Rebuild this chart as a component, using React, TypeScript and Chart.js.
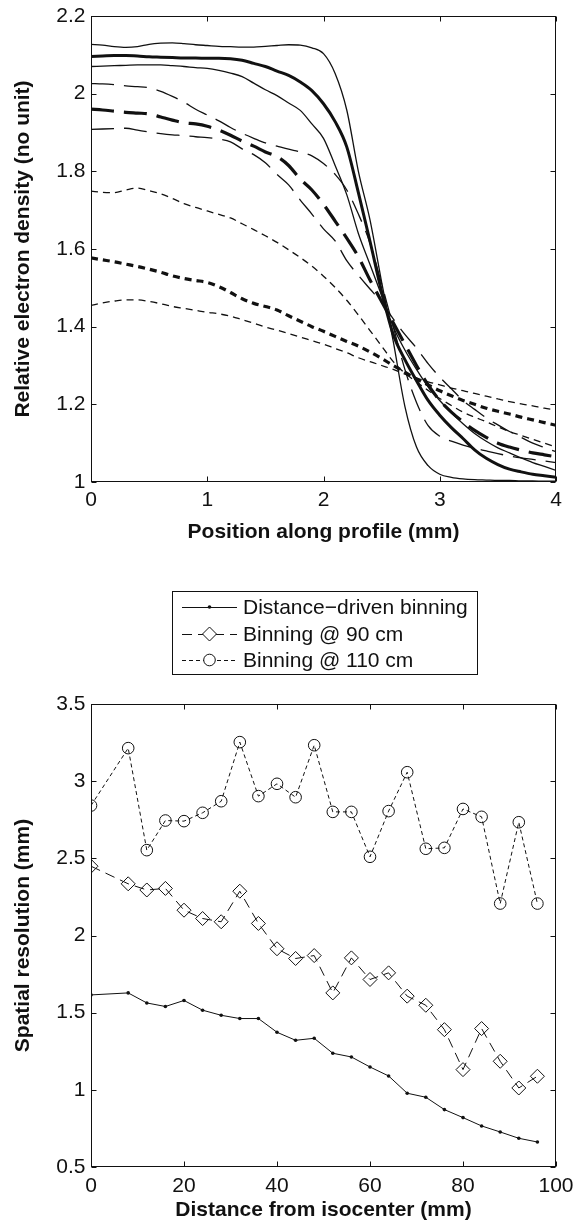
import React, { useEffect, useRef } from "react";
import { Chart, registerables } from "chart.js";

Chart.register(...registerables);

// ---------- Top chart: profiles ----------
const PROFILE_X = [
  0, 0.1, 0.2, 0.3, 0.4, 0.5, 0.6, 0.7, 0.8, 0.9, 1.0, 1.1, 1.2, 1.3, 1.4, 1.5, 1.6, 1.7, 1.8, 1.9, 2.0,
  2.1, 2.2, 2.3, 2.4, 2.5, 2.6, 2.7, 2.8, 2.9, 3.0, 3.1, 3.2, 3.3, 3.4, 3.5, 3.6, 3.7, 3.8, 3.9, 4.0,
];

const SOLID_UPPER = [
  2.127, 2.125, 2.121, 2.119, 2.121, 2.127, 2.13, 2.131, 2.129, 2.126, 2.124, 2.122, 2.121, 2.12, 2.12, 2.122,
  2.124, 2.126, 2.125, 2.118, 2.103, 2.052, 1.958, 1.8, 1.675, 1.515, 1.362, 1.195, 1.09, 1.042, 1.02, 1.012,
  1.008, 1.006, 1.005, 1.004, 1.004, 1.003, 1.003, 1.002, 1.002,
];
const SOLID_MEAN = [
  2.096, 2.097, 2.098, 2.098, 2.097, 2.095, 2.094, 2.093, 2.092, 2.092, 2.091, 2.091, 2.09, 2.086, 2.078, 2.07,
  2.058, 2.047, 2.03, 2.008, 1.974, 1.928, 1.863, 1.745, 1.62, 1.49, 1.38, 1.315, 1.261, 1.21, 1.172, 1.14,
  1.112, 1.083, 1.061, 1.045, 1.033, 1.026, 1.02, 1.016, 1.012,
];
const SOLID_LOWER = [
  2.07, 2.071, 2.072, 2.073, 2.074, 2.074, 2.074, 2.072, 2.07, 2.067, 2.065, 2.06, 2.053, 2.044, 2.027, 2.01,
  1.995, 1.976, 1.957, 1.922, 1.885, 1.815, 1.74, 1.64, 1.56, 1.48, 1.4, 1.34, 1.29, 1.245, 1.21, 1.178,
  1.15, 1.125, 1.105, 1.088, 1.075, 1.062, 1.05, 1.04, 1.03,
];
const DASH_UPPER = [
  2.026, 2.025, 2.023, 2.02, 2.018, 2.015, 2.006, 1.993, 1.978, 1.96, 1.945, 1.93, 1.913, 1.898, 1.885, 1.873,
  1.865, 1.857, 1.85, 1.84, 1.82, 1.792, 1.752, 1.69, 1.615, 1.51, 1.4, 1.29, 1.205, 1.145, 1.118, 1.105,
  1.095, 1.087, 1.08, 1.073, 1.067, 1.062, 1.058, 1.054, 1.05,
];
const DASH_MEAN = [
  1.96, 1.958, 1.955, 1.952, 1.95, 1.948, 1.94, 1.932, 1.925, 1.922, 1.916, 1.906, 1.893, 1.878, 1.865, 1.85,
  1.838, 1.815, 1.78, 1.752, 1.715, 1.672, 1.628, 1.58, 1.52, 1.465, 1.41, 1.355, 1.3, 1.25, 1.21, 1.18,
  1.155, 1.133, 1.115, 1.1, 1.09, 1.082, 1.075, 1.07, 1.065,
];
const DASH_LOWER = [
  1.908, 1.909, 1.91, 1.911, 1.906, 1.901, 1.897, 1.894, 1.892, 1.889, 1.887, 1.883, 1.876, 1.858, 1.843, 1.822,
  1.792, 1.765, 1.726, 1.69, 1.652, 1.621, 1.57, 1.532, 1.497, 1.462, 1.42, 1.38, 1.345, 1.305, 1.27, 1.24,
  1.21, 1.187, 1.165, 1.147, 1.13, 1.115, 1.1, 1.089, 1.078,
];
const DOT_UPPER = [
  1.749, 1.746, 1.745, 1.752, 1.757, 1.75, 1.742, 1.73, 1.717, 1.707, 1.698, 1.689, 1.68, 1.665, 1.65, 1.634,
  1.617, 1.598, 1.578, 1.556, 1.53, 1.501, 1.468, 1.43, 1.39, 1.35, 1.31, 1.28, 1.258, 1.236, 1.215, 1.197,
  1.18, 1.167, 1.155, 1.142, 1.13, 1.12, 1.11, 1.1, 1.09,
];
const DOT_MEAN = [
  1.577, 1.572, 1.567, 1.561, 1.555, 1.548, 1.54, 1.531, 1.524, 1.519, 1.514, 1.503, 1.488, 1.472, 1.46, 1.452,
  1.443, 1.428, 1.414, 1.4, 1.388, 1.375, 1.362, 1.35, 1.335, 1.318, 1.3, 1.283, 1.265, 1.25, 1.235, 1.222,
  1.21, 1.2, 1.19, 1.182, 1.175, 1.167, 1.16, 1.153, 1.146,
];
const DOT_LOWER = [
  1.455, 1.461, 1.466, 1.469, 1.469, 1.465, 1.459, 1.452, 1.447, 1.442, 1.437, 1.433, 1.427, 1.418, 1.409, 1.399,
  1.391, 1.382, 1.373, 1.364, 1.355, 1.344, 1.333, 1.32, 1.31, 1.3, 1.29, 1.278, 1.268, 1.258, 1.25, 1.242,
  1.235, 1.228, 1.221, 1.214, 1.207, 1.201, 1.196, 1.19, 1.186,
];

const PROFILE_X_TICKS = [0, 1, 2, 3, 4];
const PROFILE_Y_TICKS = [1, 1.2, 1.4, 1.6, 1.8, 2, 2.2];

// ---------- Bottom chart: spatial resolution ----------
const DIST_X = [0, 8, 12, 16, 20, 24, 28, 32, 36, 40, 44, 48, 52, 56, 60, 64, 68, 72, 76, 80, 84, 88, 92, 96];
const RES_DISTANCE_DRIVEN = [
  1.615, 1.628, 1.563, 1.54, 1.579, 1.516, 1.483, 1.462, 1.462, 1.373, 1.321, 1.334, 1.237, 1.213, 1.148, 1.09,
  0.978, 0.952, 0.872, 0.82, 0.766, 0.727, 0.686, 0.662,
];
const RES_BIN_90 = [
  2.449, 2.335, 2.295, 2.305, 2.164, 2.11, 2.089, 2.287, 2.078, 1.914, 1.851, 1.87, 1.628, 1.855, 1.715, 1.758,
  1.607, 1.548, 1.39, 1.131, 1.397, 1.185, 1.012, 1.088,
];
const RES_BIN_110 = [
  2.842, 3.214, 2.553, 2.745, 2.741, 2.795, 2.87, 3.253, 2.903, 2.983, 2.896, 3.233, 2.801, 2.801, 2.51, 2.806,
  3.058, 2.562, 2.568, 2.82, 2.769, 2.207, 2.734, 2.207,
];
const SERIES_LABELS = ["Distance\u2212driven binning", "Binning @ 90 cm", "Binning @ 110 cm"];
const DIST_X_TICKS = [0, 20, 40, 60, 80, 100];
const RES_Y_TICKS = [0.5, 1, 1.5, 2, 2.5, 3, 3.5];

const FONT = "'Liberation Sans', Arial, Helvetica, sans-serif";
const INK = "#111";

const pts = (xs: number[], ys: number[]) => xs.map((x, i) => ({ x, y: ys[i] }));

const frameTicks = {
  id: "frameTicks",
  afterDraw(chart: any) {
    const { ctx, chartArea: a, scales } = chart;
    const L = Math.round(a.left) + 0.5;
    const R = Math.round(a.right) - 0.5;
    const T = Math.round(a.top) + 0.5;
    const B = Math.round(a.bottom) - 0.5;
    ctx.save();
    ctx.strokeStyle = INK;
    ctx.lineWidth = 1;
    ctx.setLineDash([]);
    ctx.strokeRect(L, T, R - L, B - T);
    const len = 5;
    ctx.beginPath();
    scales.x.ticks.forEach((t: any) => {
      const px = Math.round(scales.x.getPixelForValue(t.value)) + 0.5;
      ctx.moveTo(px, B);
      ctx.lineTo(px, B - len);
      ctx.moveTo(px, T);
      ctx.lineTo(px, T + len);
    });
    scales.y.ticks.forEach((t: any) => {
      const py = Math.round(scales.y.getPixelForValue(t.value)) + 0.5;
      ctx.moveTo(L, py);
      ctx.lineTo(L + len, py);
      ctx.moveTo(R, py);
      ctx.lineTo(R - len, py);
    });
    ctx.stroke();
    ctx.restore();
  },
};

const boxLegend = {
  id: "boxLegend",
  afterDraw(chart: any, _args: any, opts: any) {
    if (!opts || !opts.show) return;
    const { ctx } = chart;
    const { box, rows, lineX0, lineX1, markX, textX } = opts;
    ctx.save();
    ctx.fillStyle = "#fff";
    ctx.fillRect(box.left, box.top, box.right - box.left, box.bottom - box.top);
    ctx.strokeStyle = INK;
    ctx.lineWidth = 1;
    ctx.setLineDash([]);
    ctx.strokeRect(box.left + 0.5, box.top + 0.5, box.right - box.left, box.bottom - box.top);
    chart.data.datasets.forEach((ds: any, i: number) => {
      const y = rows[i];
      ctx.strokeStyle = INK;
      ctx.lineWidth = ds.borderWidth;
      ctx.setLineDash(ds.borderDash || []);
      ctx.beginPath();
      ctx.moveTo(lineX0, y + 0.5);
      ctx.lineTo(lineX1, y + 0.5);
      ctx.stroke();
      ctx.setLineDash([]);
      const r = ds.pointRadius;
      ctx.lineWidth = ds.pointBorderWidth;
      ctx.beginPath();
      if (ds.pointStyle === "rectRot") {
        ctx.fillStyle = "#fff";
        ctx.moveTo(markX - r, y);
        ctx.lineTo(markX, y - r);
        ctx.lineTo(markX + r, y);
        ctx.lineTo(markX, y + r);
        ctx.closePath();
        ctx.fill();
        ctx.stroke();
      } else {
        ctx.arc(markX, y, r, 0, Math.PI * 2);
        if (ds.pointBackgroundColor === INK) {
          ctx.fillStyle = INK;
          ctx.fill();
        } else {
          ctx.fillStyle = "#fff";
          ctx.fill();
          ctx.stroke();
        }
      }
      ctx.fillStyle = INK;
      ctx.font = `21px ${FONT}`;
      ctx.textAlign = "left";
      ctx.textBaseline = "middle";
      ctx.fillText(ds.label, textX, y + 1);
    });
    ctx.restore();
  },
};

function axis(
  min: number,
  max: number,
  tickValues: number[],
  title: string,
  isX: boolean,
  size: number,
  tickPad: number,
  titlePad: any
) {
  return {
    type: "linear",
    min,
    max,
    grid: { display: false, drawTicks: false },
    border: { display: false },
    afterBuildTicks: (s: any) => {
      s.ticks = tickValues.map((v) => ({ value: v }));
    },
    afterFit: (s: any) => {
      if (isX) s.height = size;
      else s.width = size;
      s.paddingLeft = 0;
      s.paddingRight = 0;
      s.paddingTop = 0;
      s.paddingBottom = 0;
    },
    ticks: {
      autoSkip: false,
      maxRotation: 0,
      padding: tickPad,
      color: INK,
      font: { family: FONT, size: 21 },
      callback: (v: any) => String(v),
    },
    title: {
      display: true,
      text: title,
      color: INK,
      font: { family: FONT, size: 21, weight: "bold" },
      padding: titlePad,
    },
  };
}

function profileLine(data: number[], width: number, dash: number[]) {
  return {
    data: pts(PROFILE_X, data),
    borderColor: INK,
    borderWidth: width,
    borderDash: dash,
    pointRadius: 0,
    fill: false,
    cubicInterpolationMode: "monotone",
  };
}

export default function App() {
  const topRef = useRef<HTMLCanvasElement>(null);
  const botRef = useRef<HTMLCanvasElement>(null);

  useEffect(() => {
    const LONG = [23, 10];
    const SHORT = [7, 5];
    const top = new Chart(topRef.current as HTMLCanvasElement, {
      type: "line",
      data: {
        datasets: [
          profileLine(DOT_UPPER, 1.3, SHORT),
          profileLine(DOT_MEAN, 3.2, SHORT),
          profileLine(DOT_LOWER, 1.3, SHORT),
          profileLine(DASH_UPPER, 1.3, LONG),
          profileLine(DASH_MEAN, 3.2, LONG),
          profileLine(DASH_LOWER, 1.3, LONG),
          profileLine(SOLID_UPPER, 1.3, []),
          profileLine(SOLID_MEAN, 3, []),
          profileLine(SOLID_LOWER, 1.3, []),
        ] as any,
      },
      options: {
        responsive: false,
        animation: false,
        devicePixelRatio: 1,
        layout: { padding: { top: 16, right: 18, left: 0, bottom: 0 } },
        plugins: { legend: { display: false }, tooltip: { enabled: false } },
        scales: {
          x: axis(0, 4, PROFILE_X_TICKS, "Position along profile (mm)", true, 68, 5.5, { top: 0, bottom: 5.5 }),
          y: axis(1, 2.2, PROFILE_Y_TICKS, "Relative electron density (no unit)", false, 91, 5.6, { top: 10.4, bottom: 0 }),
        } as any,
      },
      plugins: [frameTicks],
    } as any);

    const bot = new Chart(botRef.current as HTMLCanvasElement, {
      type: "line",
      data: {
        datasets: [
          {
            label: SERIES_LABELS[0],
            data: pts(DIST_X, RES_DISTANCE_DRIVEN),
            borderColor: INK,
            borderWidth: 1,
            borderDash: [],
            pointStyle: "circle",
            pointRadius: 1.8,
            pointBorderWidth: 0,
            pointBackgroundColor: INK,
            pointBorderColor: INK,
            fill: false,
            tension: 0,
          },
          {
            label: SERIES_LABELS[1],
            data: pts(DIST_X, RES_BIN_90),
            borderColor: INK,
            borderWidth: 1,
            borderDash: [10, 6],
            pointStyle: "rectRot",
            pointRadius: 7,
            pointBorderWidth: 1,
            pointBackgroundColor: "rgba(0,0,0,0)",
            pointBorderColor: INK,
            fill: false,
            tension: 0,
          },
          {
            label: SERIES_LABELS[2],
            data: pts(DIST_X, RES_BIN_110),
            borderColor: INK,
            borderWidth: 1,
            borderDash: [4, 3],
            pointStyle: "circle",
            pointRadius: 5.8,
            pointBorderWidth: 1,
            pointBackgroundColor: "rgba(0,0,0,0)",
            pointBorderColor: INK,
            fill: false,
            tension: 0,
          },
        ] as any,
      },
      options: {
        responsive: false,
        animation: false,
        devicePixelRatio: 1,
        layout: { padding: { top: 154, right: 18, left: 0, bottom: 0 } },
        plugins: {
          legend: { display: false },
          tooltip: { enabled: false },
          boxLegend: {
            show: true,
            box: { left: 172, top: 41, right: 477, bottom: 124 },
            rows: [57, 84, 110],
            lineX0: 182,
            lineX1: 237,
            markX: 209.5,
            textX: 243,
          },
        } as any,
        scales: {
          x: axis(0, 100, DIST_X_TICKS, "Distance from isocenter (mm)", true, 61, 7, { top: 0, bottom: 5.4 }),
          y: axis(0.5, 3.5, RES_Y_TICKS, "Spatial resolution (mm)", false, 91, 5.6, { top: 10.4, bottom: 0 }),
        } as any,
      },
      plugins: [frameTicks, boxLegend],
    } as any);

    return () => {
      top.destroy();
      bot.destroy();
    };
  }, []);

  return (
    <div style={{ position: "absolute", left: 0, top: 0, width: 574, height: 1228, background: "#fff" }}>
      <canvas
        ref={topRef}
        width={574}
        height={550}
        style={{ position: "absolute", left: 0, top: 0, width: 574, height: 550 }}
      />
      <canvas
        ref={botRef}
        width={574}
        height={678}
        style={{ position: "absolute", left: 0, top: 550, width: 574, height: 678 }}
      />
    </div>
  );
}
